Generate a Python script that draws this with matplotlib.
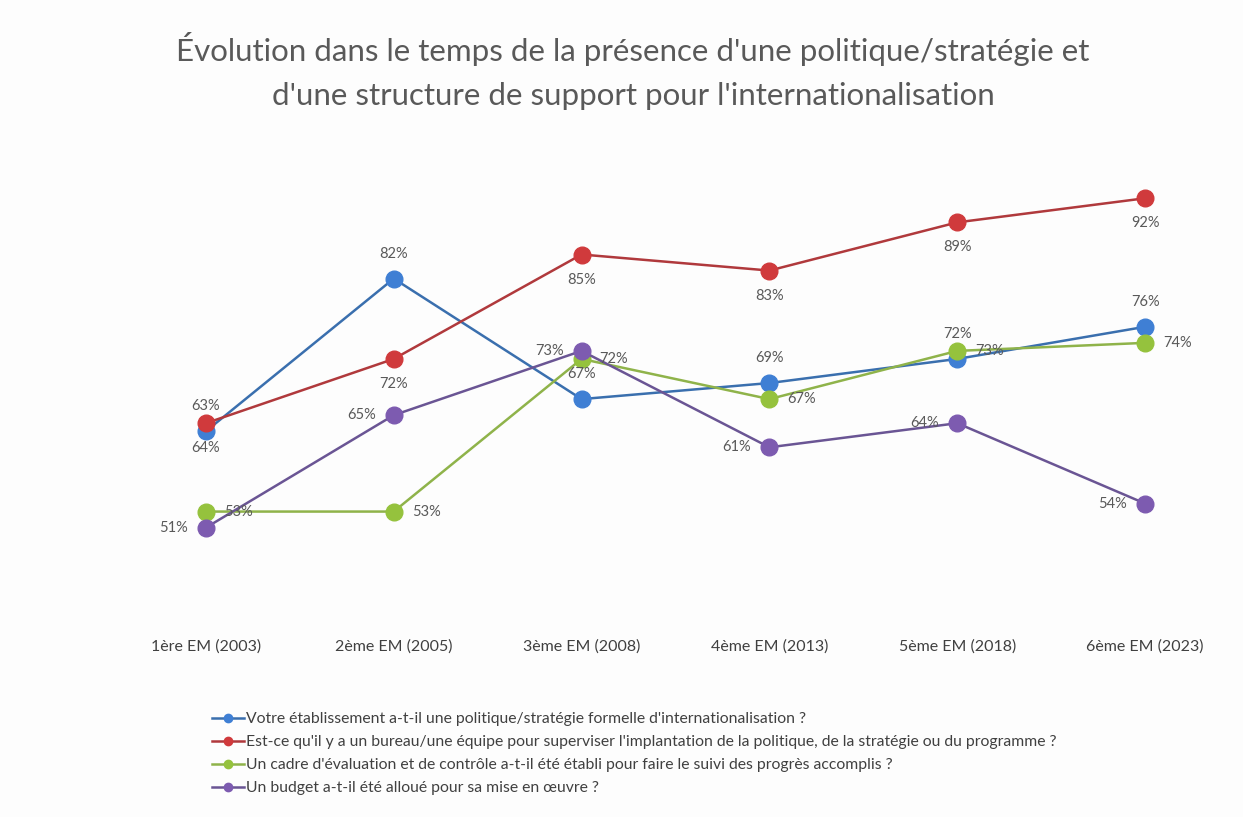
import matplotlib
matplotlib.use("Agg")
import matplotlib.pyplot as plt

# Survey rounds (categories on the x axis)
categories = ["1ère EM (2003)", "2ème EM (2005)", "3ème EM (2008)",
              "4ème EM (2013)", "5ème EM (2018)", "6ème EM (2023)"]

# Share of institutions (%) answering yes, per question
politique = [63, 82, 67, 69, 72, 76]
bureau = [64, 72, 85, 83, 89, 92]
cadre = [53, 53, 72, 67, 73, 74]
budget = [51, 65, 73, 61, 64, 54]

series_labels = [
    "Votre établissement a-t-il une politique/stratégie formelle d'internationalisation ?",
    "Est-ce qu'il y a un bureau/une équipe pour superviser l'implantation de la politique, de la stratégie ou du programme ?",
    "Un cadre d'évaluation et de contrôle a-t-il été établi pour faire le suivi des progrès accomplis ?",
    "Un budget a-t-il été alloué pour sa mise en œuvre ?",
]

title = ("Évolution dans le temps de la présence d'une politique/stratégie et\n"
         "d'une structure de support pour l'internationalisation")

plt.rcParams["font.family"] = ["Lato", "DejaVu Sans"]

W, H = 1243, 817
fig = plt.figure(figsize=(W / 100, H / 100), dpi=100, facecolor="#fdfdfd")

# axes box in pixel terms: x 112..1239, y 134..616
left, right, top, bottom = 112, 1239, 134, 616
ax = fig.add_axes([left / W, 1 - bottom / H, (right - left) / W, (bottom - top) / H])
ax.set_facecolor("none")

colors = ["#3f7fd4", "#d03a3c", "#95c23d", "#7d5bb0"]
line_colors = ["#3a6fae", "#b0393c", "#8fb34a", "#6a5594"]
data = [politique, bureau, cadre, budget]
# label placement per series: (dx, dy) offset in points, alignment
placements = [
    ((0, 13), "center", "bottom"),
    ((0, -13), "center", "top"),
    ((13, 0), "left", "center"),
    ((-13, 0), "right", "center"),
]

x = list(range(len(categories)))
for vals, c, lc, lab, (off, ha, va) in zip(data, colors, line_colors, series_labels, placements):
    ax.plot(x, vals, color=lc, linewidth=1.8, marker="o", markersize=12,
            markerfacecolor=c, markeredgecolor=c, label=lab, zorder=3)
    for xi, v in zip(x, vals):
        ax.annotate(f"{v}%", (xi, v), xytext=off, textcoords="offset points",
                    ha=ha, va=va, fontsize=10.5, color="#595959", zorder=4)

ax.set_xlim(-0.5, len(categories) - 0.5)
ax.set_ylim(40, 100)
ax.set_xticks(x)
ax.set_xticklabels(categories, fontsize=11.5, color="#404040")
ax.set_yticks([])
ax.tick_params(axis="x", length=0, pad=17)
for s in ax.spines.values():
    s.set_visible(False)

fig.text(633 / W, 1 - 71 / H, title, ha="center", va="center", fontsize=22.5,
         color="#595959", linespacing=1.72)

handles, labels = ax.get_legend_handles_labels()
fig.legend(handles, labels, loc="upper left",
           bbox_to_anchor=(198 / W, 1 - 698 / H), frameon=False,
           fontsize=11.3, labelcolor="#404040", handlelength=2.0,
           handletextpad=0.15, labelspacing=0.58, markerscale=0.5)

fig.savefig("out.png", dpi=100, facecolor=fig.get_facecolor())
